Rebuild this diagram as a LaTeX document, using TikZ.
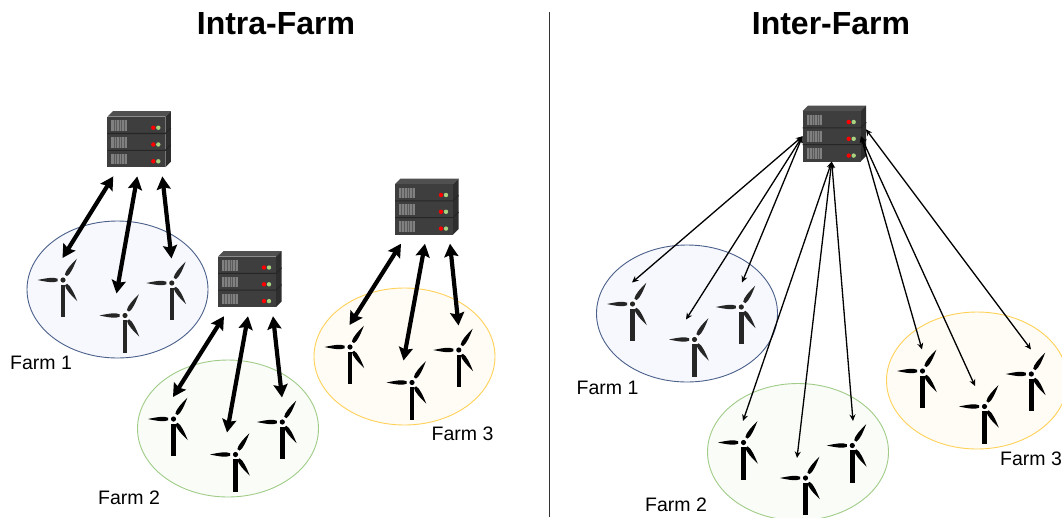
\documentclass[tikz,border=0pt]{standalone}
\usepackage{fontspec}
\setmainfont{Liberation Sans}
\usetikzlibrary{arrows.meta, positioning, shapes.geometric}
\definecolor{srvfront}{HTML}{3E3E3E}
\definecolor{srvtop}{HTML}{505050}
\definecolor{srvside}{HTML}{2E2E2E}
\definecolor{srvvent}{HTML}{808080}
\definecolor{srvled}{HTML}{A8D280}
\definecolor{bluefill}{HTML}{F6F8FD}
\definecolor{blueline}{HTML}{4A5F8A}
\definecolor{greenfill}{HTML}{F9FCF7}
\definecolor{greenline}{HTML}{A0CC88}
\definecolor{yellowfill}{HTML}{FFFCF6}
\definecolor{yellowline}{HTML}{FFD158}
\definecolor{turbgray}{HTML}{262626}
\tikzset{
    farm/.style={ellipse, draw=#1line, fill=#1fill, line width=0.9pt, minimum width=181pt, minimum height=137pt, inner sep=0pt},
    farmlabel/.style={inner sep=0pt, font=\fontsize{19.5}{22}\selectfont},
    title/.style={inner sep=0pt, font=\fontsize{32}{36}\selectfont\bfseries},
    thicklink/.style={draw=black, line width=4.2pt, {Stealth[length=13pt,width=14pt,inset=2pt]}-{Stealth[length=13pt,width=14pt,inset=2pt]}},
    thinlink/.style={draw=black, line width=1.3pt, {Stealth[length=6.5pt,width=6pt]}-{Stealth[length=6.5pt,width=6pt]}},
    pics/blade/.style={code={
        \fill[#1] (5.5,1.3) .. controls (9,3.2) and (17,1.8) .. (25.5,0) .. controls (17,-1.8) and (9,-3.2) .. (5.5,-1.3) -- cycle;
    }},
    pics/turbine/.style={code={
        \fill[#1] (-2.3,4.5) rectangle (2.3,37);
        \pic[rotate=180] {blade=#1};
        \pic[rotate=57] {blade=#1};
        \pic[rotate=-56] {blade=#1};
        \fill[white] (0,0) circle (4.2);
        \fill[#1] (0,0) circle (2.6);
    }},
    pics/server/.style={code={
        \fill[srvtop] (0,0) -- (5.5,-5.5) -- (63.5,-5.5) -- (58,0) -- cycle;
        \fill[srvside] (58,0) -- (63.5,-5.5) -- (63.5,45) -- (58,50.5) -- cycle;
        \node[fill=srvfront, minimum width=58pt, minimum height=50.5pt, inner sep=0pt] (-box) at (29,25.25) {};
        \foreach \row in {0,1,2} {
            \begin{scope}[yshift=-\row*16.8pt]
                \fill[srvvent] (4,3.5) rectangle (19.5,14);
                \foreach \k in {1,...,5}
                    \draw[srvvent!70!black, line width=0.5pt] (4+\k*2.6,3.5) -- (4+\k*2.6,14);
                \fill[red] (46,11) circle (2.2);
                \fill[srvled] (51,11) circle (2.2);
            \end{scope}
        }
        \draw[black!85, line width=1.1pt] (0,16.8) -- (58,16.8) -- (63.5,11.3) (0,33.6) -- (58,33.6) -- (63.5,28.1);
    }}
}
\begin{document}
\begin{tikzpicture}[x=1pt, y=-1pt]
    \path[use as bounding box, clip] (0,0) rectangle (1062,517);

    % Titles
    \node[title] (intra) at (276,24) {Intra-Farm};
    \node[title] (inter) at (831,24) {Inter-Farm};
    \coordinate (divtop) at (549.5,12);
    \coordinate (divbot) at (549.5,517);
    \draw[black!80, line width=0.9pt] (divtop) -- (divbot);

    % Farms
    \node[farm=blue] (farmA) at (117.5,289.5) {};
    \node[farm=green] (farmB) at (228,428.5) {};
    \node[farm=yellow] (farmC) at (404.5,356.5) {};
    \node[farm=blue] (farmD) at (687,313.5) {};
    \node[farm=green] (farmE) at (798,452) {};
    \node[farm=yellow] (farmF) at (977,380.5) {};

    % Farm labels
    \node[farmlabel] (labA) at (41,362.5) {Farm 1};
    \node[farmlabel] (labB) at (129,498) {Farm 2};
    \node[farmlabel] (labC) at (462.5,434) {Farm 3};
    \node[farmlabel] (labD) at (607.5,388) {Farm 1};
    \node[farmlabel] (labE) at (676,505) {Farm 2};
    \node[farmlabel] (labF) at (1031,459) {Farm 3};

    % Servers
    \pic (srvA) at (107.3,116.7) {server};
    \pic (srvB) at (218,256.5) {server};
    \pic (srvC) at (395,184) {server};
    \pic (srvD) at (802.7,111) {server};

    % Turbines
    \foreach \f/\col in {farmA/turbgray, farmB/black, farmC/black, farmD/turbgray, farmE/black, farmF/black} {
        \pic at ([shift={(-54.5,-9.5)}]\f.center) {turbine=\col};
        \pic at ([shift={(7.5,26)}]\f.center) {turbine=\col};
        \pic at ([shift={(54.3,-6.5)}]\f.center) {turbine=\col};
    }

    % Intra-farm links
    \foreach \s/\f in {srvA/farmA, srvB/farmB, srvC/farmC} {
        \draw[thicklink] ([shift={(-23,9)}]\s-box.south) -- ([shift={(-55,-31.5)}]\f.center);
        \draw[thicklink] ([shift={(1,9)}]\s-box.south) -- ([shift={(-1,4)}]\f.center);
        \draw[thicklink] ([shift={(26,9)}]\s-box.south) -- ([shift={(54,-31)}]\f.center);
    }

    % Inter-farm links
    \foreach \s/\f in {srvD-box.west/farmD, srvD-box.south/farmE} {
        \draw[thinlink] (\s) -- ([shift={(-55,-31)}]\f.center);
        \draw[thinlink] (\s) -- ([shift={(-1,6)}]\f.center);
        \draw[thinlink] (\s) -- ([shift={(55,-31)}]\f.center);
    }
    \draw[thinlink] (srvD-box.east) -- ([shift={(-55,-31)}]farmF.center);
    \draw[thinlink] (srvD-box.east) -- ([shift={(-2,5.5)}]farmF.center);
    \draw[thinlink] ([shift={(5,-7)}]srvD-box.east) -- ([shift={(54,-31)}]farmF.center);
\end{tikzpicture}
\end{document}
